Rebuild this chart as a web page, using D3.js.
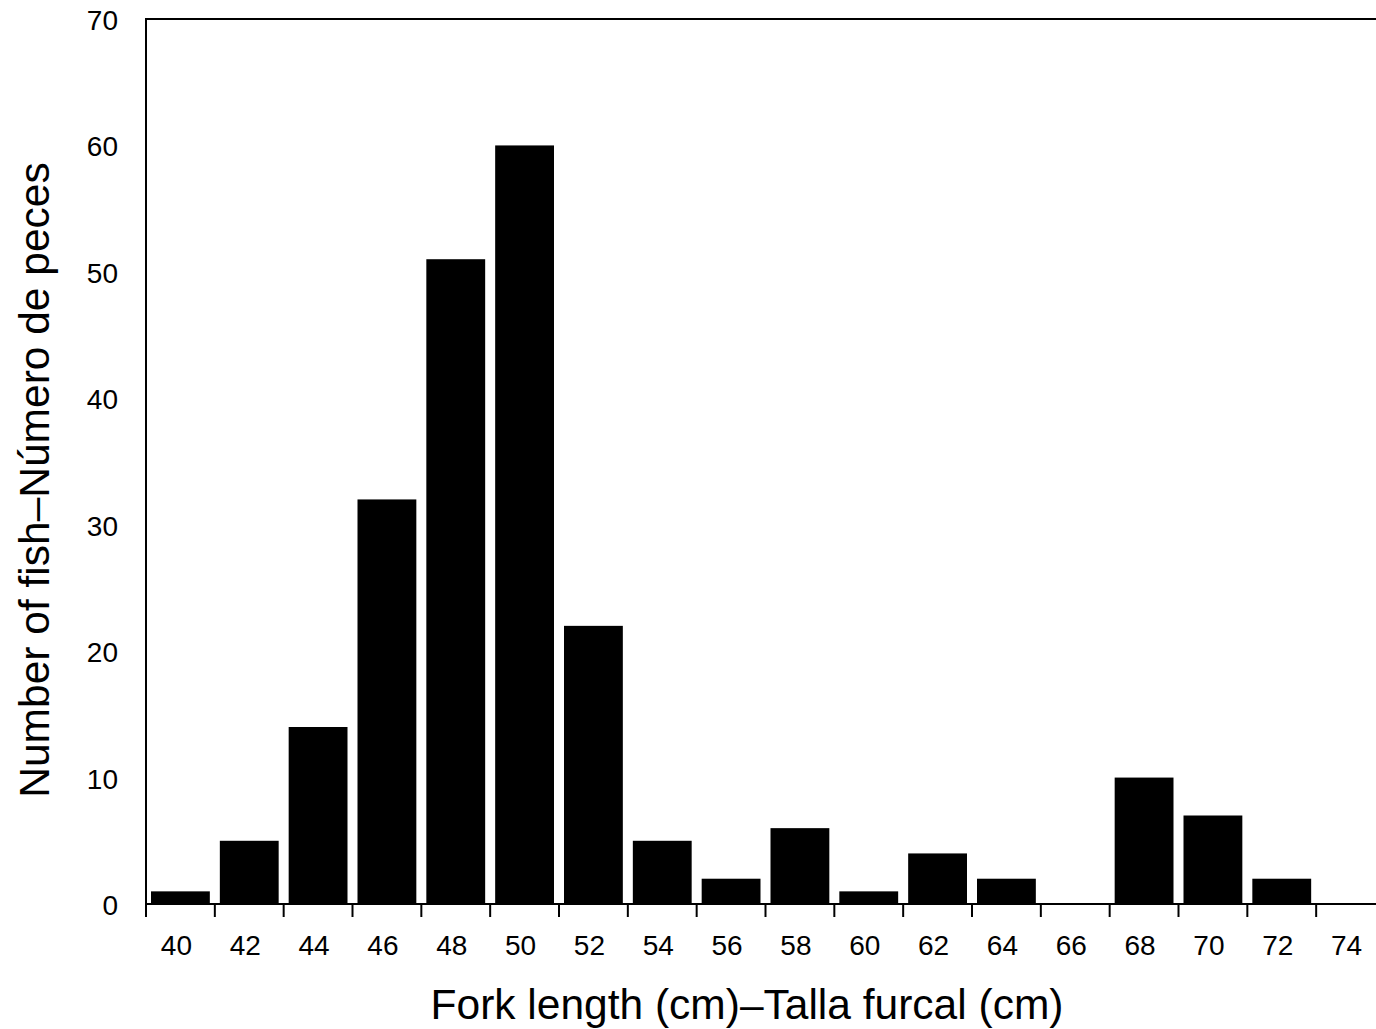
<!DOCTYPE html>
<html><head><meta charset="utf-8">
<script src="https://cdn.jsdelivr.net/npm/d3@7"></script>
<style>body{margin:0;background:#fff;overflow:hidden}svg{display:block}text{font-family:"Liberation Sans",Arial,sans-serif;fill:#000}</style>
</head><body>
<script>
const binStarts = [40,42,44,46,48,50,52,54,56,58,60,62,64,66,68,70,72];
const counts    = [1,5,14,32,51,60,22,5,2,6,1,4,2,0,10,7,2];
const xTickLabels = [40,42,44,46,48,50,52,54,56,58,60,62,64,66,68,70,72,74];
const yTicks = [0,10,20,30,40,50,60,70];
const binWidth = 2;

const W = 1376, H = 1029;
const svg = d3.select("body").append("svg").attr("width", W).attr("height", H);

const x = d3.scaleLinear().domain([40, 76]).range([146, 1385]);
const y = d3.scaleLinear().domain([0, 70]).range([904, 19]);

// bars
svg.append("g").selectAll("rect").data(binStarts).join("rect")
  .attr("x", (d) => x(d) + 5)
  .attr("width", (d) => x(d + binWidth) - x(d) - 10)
  .attr("y", (d, i) => y(counts[i]))
  .attr("height", (d, i) => y(0) - y(counts[i]))
  .attr("fill", "#000");

// frame
svg.append("path")
  .attr("d", `M${x(76)},${y(70)}H${x(40)}V${y(0)}H${x(76)}`)
  .attr("fill", "none").attr("stroke", "#000").attr("stroke-width", 2);

// x ticks
svg.append("g").selectAll("line").data(xTickLabels).join("line")
  .attr("x1", (d) => x(d)).attr("x2", (d) => x(d))
  .attr("y1", y(0)).attr("y2", y(0) + 13)
  .attr("stroke", "#000").attr("stroke-width", 2);

// x labels (centered in bins)
svg.append("g").selectAll("text").data(xTickLabels).join("text")
  .attr("x", (d) => x(d + binWidth / 2) - 4)
  .attr("y", y(0) + 51)
  .attr("text-anchor", "middle")
  .attr("font-size", 28)
  .text((d) => d);

// y labels
svg.append("g").selectAll("text").data(yTicks).join("text")
  .attr("x", 118)
  .attr("y", (d) => y(d) + 11)
  .attr("text-anchor", "end")
  .attr("font-size", 28)
  .text((d) => d);

// titles
svg.append("text")
  .attr("x", 747).attr("y", 1019)
  .attr("text-anchor", "middle").attr("font-size", 42.5)
  .text("Fork length (cm)\u2013Talla furcal (cm)");

svg.append("text")
  .attr("transform", "translate(49,480) rotate(-90)")
  .attr("text-anchor", "middle").attr("font-size", 42.5)
  .text("Number of fish\u2013N\u00famero de peces");
</script>
</body></html>
